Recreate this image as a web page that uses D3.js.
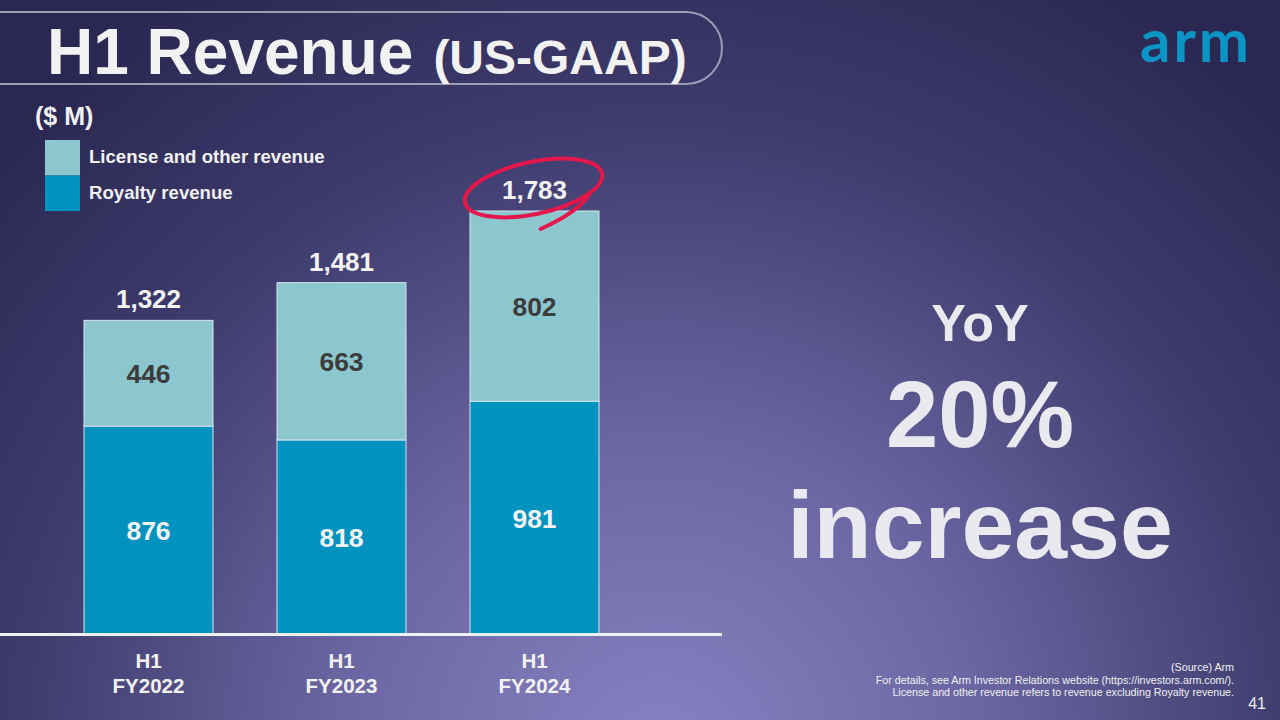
<!DOCTYPE html>
<html><head><meta charset="utf-8">
<script src="https://cdn.jsdelivr.net/npm/d3@7"></script>
<style>body{margin:0;overflow:hidden;background:#2c2a55}svg{display:block}text{font-family:"Liberation Sans",Arial,sans-serif;font-weight:bold}</style>
</head><body>
<svg id="c" width="1280" height="720"></svg>
<script>
const categories = [["H1","FY2022"],["H1","FY2023"],["H1","FY2024"]];
const royalty = [876, 818, 981];
const license = [446, 663, 802];
const totals = [1322, 1481, 1783];
const seriesNames = ["License and other revenue", "Royalty revenue"];
const footnotes = ["(Source) Arm","For details, see Arm Investor Relations website (https://investors.arm.com/).","License and other revenue refers to revenue excluding Royalty revenue."];

const svg = d3.select("#c");
const defs = svg.append("defs");
const rg = defs.append("radialGradient").attr("id","bg").attr("gradientUnits","userSpaceOnUse")
  .attr("cx",660).attr("cy",760).attr("r",900);
rg.append("stop").attr("offset",0).attr("stop-color","#8882c2");
rg.append("stop").attr("offset",0.35).attr("stop-color","#6c67a4");
rg.append("stop").attr("offset",0.7).attr("stop-color","#3f3c6e");
rg.append("stop").attr("offset",1).attr("stop-color","#2a2852");
svg.append("rect").attr("width",1280).attr("height",720).attr("fill","url(#bg)");

// title frame
svg.append("path").attr("d","M-10,12 H686 A36,36 0 0 1 686,84 H-10")
  .attr("fill","none").attr("stroke","#9c9cb4").attr("stroke-width",2);
const t = svg.append("text").attr("x",47).attr("y",74).attr("fill","#f2f2f2");
t.append("tspan").attr("font-size",64).text("H1 Revenue");
t.append("tspan").attr("font-size",48).attr("dx",20).text("(US-GAAP)");

// logo
svg.append("text").attr("x",1140).attr("y",62).attr("fill","#0a95c6")
  .attr("font-size",60).style("font-family","Lato, 'Open Sans', sans-serif").style("font-weight","bold").attr("letter-spacing",3).text("arm");

// unit + legend
svg.append("text").attr("x",35).attr("y",125).attr("fill","#f2f2f2").attr("font-size",25).text("($ M)");
const colors = ["#8cc7d0","#0093c0"];
seriesNames.forEach((n,i)=>{
  svg.append("rect").attr("x",45).attr("y",140+i*35.5).attr("width",35).attr("height",35.5).attr("fill",colors[i]);
  svg.append("text").attr("x",89).attr("y",163+i*36).attr("fill","#f2f2f2").attr("font-size",18.6).text(n);
});

const x = d3.scaleBand().domain(d3.range(3)).range([52,631]).paddingInner(0.3316).paddingOuter(0.1658);
const y = d3.scaleLinear().domain([0,1783]).range([634,211]);

const g = svg.append("g");
const stack = royalty.map((r,i)=>({i, r, l: license[i]}));
g.selectAll(".roy").data(stack).join("rect").attr("x",d=>x(d.i)).attr("width",x.bandwidth())
  .attr("y",d=>y(d.r)).attr("height",d=>y(0)-y(d.r)).attr("fill",colors[1]).attr("stroke","#d8e4ee").attr("stroke-width",1);
g.selectAll(".lic").data(stack).join("rect").attr("x",d=>x(d.i)).attr("width",x.bandwidth())
  .attr("y",d=>y(d.r+d.l)).attr("height",d=>y(d.r)-y(d.r+d.l)).attr("fill",colors[0]).attr("stroke","#d8e4ee").attr("stroke-width",1);
g.selectAll(".rv").data(stack).join("text").attr("x",d=>x(d.i)+x.bandwidth()/2).attr("y",d=>y(d.r/2)+10)
  .attr("text-anchor","middle").attr("fill","#f4f4f4").attr("font-size",26.5).text(d=>d.r);
g.selectAll(".lv").data(stack).join("text").attr("x",d=>x(d.i)+x.bandwidth()/2).attr("y",d=>y(d.r+d.l/2)+10)
  .attr("text-anchor","middle").attr("fill","#3c3c3c").attr("font-size",26.5).text(d=>d.l);
g.selectAll(".tv").data(totals).join("text").attr("x",(d,i)=>x(i)+x.bandwidth()/2).attr("y",d=>y(d)-12)
  .attr("text-anchor","middle").attr("fill","#f4f4f4").attr("font-size",26).text(d=>d3.format(",")(d));

// baseline
svg.append("line").attr("x1",0).attr("x2",722).attr("y1",634.5).attr("y2",634.5).attr("stroke","#f0f0f0").attr("stroke-width",3);

// category labels
categories.forEach((c,i)=>{
  const tx = svg.append("text").attr("text-anchor","middle").attr("fill","#f2f2f2").attr("font-size",20.5);
  c.forEach((line,j)=>tx.append("tspan").attr("x",x(i)+x.bandwidth()/2).attr("y",668+j*25).text(line));
});

// red annotation
const cx = x(2)+x.bandwidth()/2 - 1, cy = 188;
svg.append("ellipse").attr("cx",cx).attr("cy",cy).attr("rx",70).attr("ry",26)
  .attr("transform",`rotate(-12 ${cx} ${cy})`).attr("fill","none").attr("stroke","#e3174b").attr("stroke-width",4);
svg.append("path").attr("d",`M${cx+56},${cy+6} Q${cx+45},${cy+24} ${cx+7},${cy+41}`)
  .attr("fill","none").attr("stroke","#e3174b").attr("stroke-width",4).attr("stroke-linecap","round");

// YoY
const yc = "#e9e9ef";
svg.append("text").attr("x",980).attr("y",341).attr("text-anchor","middle").attr("fill",yc).attr("font-size",52).text("YoY");
svg.append("text").attr("x",980).attr("y",447).attr("text-anchor","middle").attr("fill",yc).attr("font-size",94).text("20%");
svg.append("text").attr("x",980).attr("y",558).attr("text-anchor","middle").attr("fill",yc).attr("font-size",95).text("increase");

// footnotes
footnotes.forEach((f,i)=>svg.append("text").attr("x",1234).attr("y",671+i*12.5).attr("text-anchor","end")
  .attr("fill","#f0f0f0").attr("font-size",10.7).style("font-weight","normal").text(f));
svg.append("text").attr("x",1266).attr("y",709).attr("text-anchor","end").attr("fill","#f0f0f0").attr("font-size",16).style("font-weight","normal").text("41");
</script>
</body></html>
